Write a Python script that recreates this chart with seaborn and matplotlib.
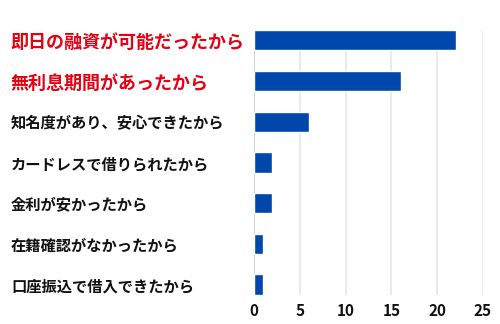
import matplotlib
matplotlib.use("Agg")
import matplotlib.pyplot as plt
import seaborn as sns
import pandas as pd

categories = ["即日の融資が可能だったから", "無利息期間があったから", "知名度があり、安心できたから",
              "カードレスで借りられたから", "金利が安かったから", "在籍確認がなかったから", "口座振込で借入できたから"]
values = [22, 16, 6, 2, 2, 1, 1]
xticks = [0, 5, 10, 15, 20, 25]
highlight = [True, True, False, False, False, False, False]

sns.set_theme(style="white")
plt.rcParams['font.family'] = ['Noto Sans CJK JP', 'DejaVu Sans']

df = pd.DataFrame({"cat": categories, "val": values})
fig = plt.figure(figsize=(5, 3.24), dpi=100)
ax = fig.add_axes([0.508, 0.09, 0.458, 0.817])
sns.barplot(data=df, y="cat", x="val", color="#0047AB", saturation=1, width=0.5, ax=ax, zorder=3)
ax.set_xlim(0, 25)
ax.set_ylim(6.25, -0.25)
ax.set_xticks(xticks)
ax.set_xlabel("")
ax.set_ylabel("")
for s in ax.spines.values():
    s.set_visible(False)
ax.grid(axis="x", color="#e6e6e6", linewidth=1.2, zorder=0)
ax.grid(axis="y", visible=False)
ax.axvline(0, color="#cccccc", linewidth=1.2, zorder=1)
ax.tick_params(axis="y", length=0, pad=175)
ax.tick_params(axis="x", length=0, pad=6)
for lab in ax.get_xticklabels():
    lab.set_fontsize(11)
    lab.set_fontweight("bold")
    lab.set_color("#111111")
for lab, hl in zip(ax.get_yticklabels(), highlight):
    lab.set_horizontalalignment("left")
    if hl:
        lab.set_color("#E60012")
        lab.set_fontsize(13)
        lab.set_fontweight("bold")
    else:
        lab.set_color("#111111")
        lab.set_fontsize(11)
        lab.set_fontweight("bold")
fig.savefig("out.png", dpi=100)
